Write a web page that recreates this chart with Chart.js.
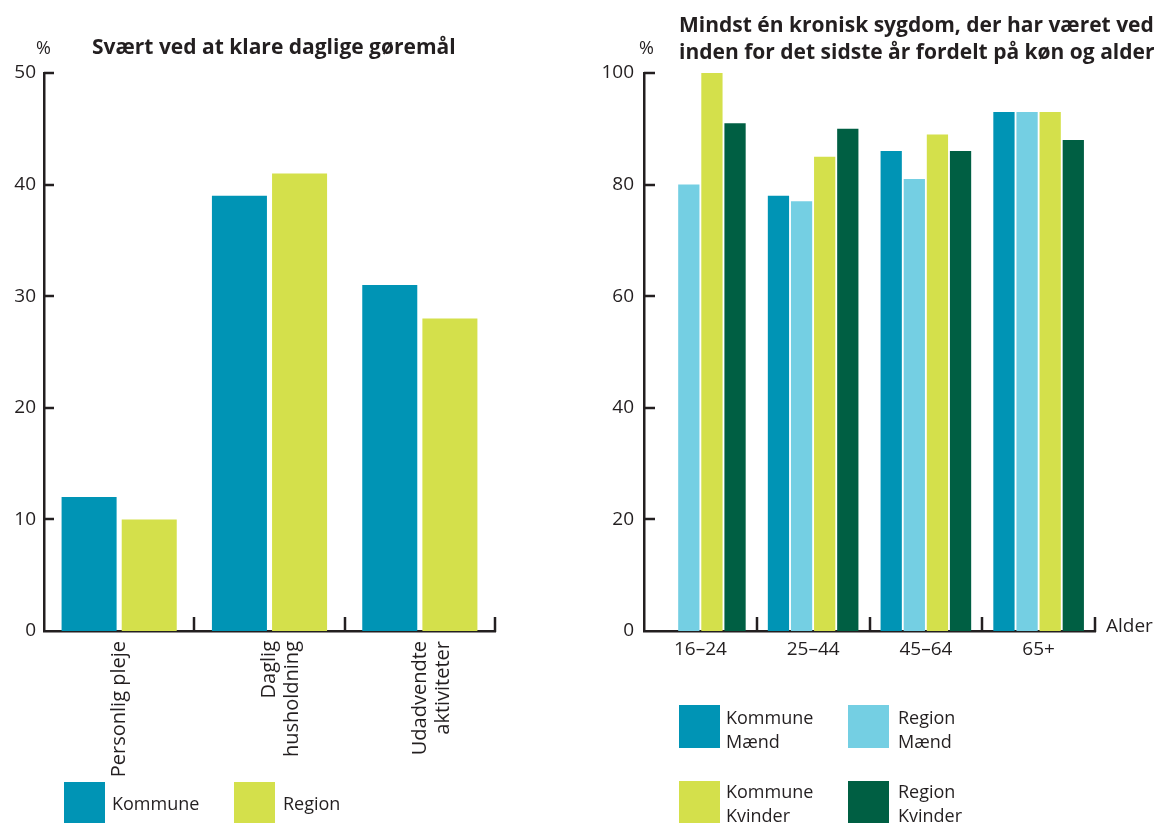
<!DOCTYPE html>
<html>
<head>
<meta charset="utf-8">
<script src="https://cdn.jsdelivr.net/npm/chart.js@4.4.1/dist/chart.umd.min.js"></script>
<style>
  html, body { margin: 0; padding: 0; background: #ffffff; }
  #page { position: relative; width: 1154px; height: 823px; overflow: hidden;
          font-family: 'Open Sans', sans-serif; color: #231f20; }
  canvas { position: absolute; top: 0; }
  .txt { position: absolute; white-space: nowrap; font-size: 18px; line-height: 24px; }
  .title { font-weight: 700; font-size: 21px; line-height: 27px; }
  .swatch { position: absolute; }
</style>
</head>
<body>
<div id="page">
  <canvas id="tasks" width="560" height="823" style="left:0; width:560px; height:823px;"></canvas>
  <canvas id="chronic" width="594" height="823" style="left:560px; width:594px; height:823px;"></canvas>

  <div class="txt" style="left:36px; top:35px;">%</div>
  <div class="txt title" style="left:92px; top:33px;">Svært ved at klare daglige gøremål</div>

  <div class="txt" style="left:639px; top:35px;">%</div>
  <div class="txt title" style="left:679px; top:11px;">Mindst én kronisk sygdom, der har været ved<br>inden for det sidste år fordelt på køn og alder</div>
  <div class="txt" style="left:1106px; top:613px; font-size:19px;">Alder</div>

  <div id="tasksKey"></div>
  <div id="chronicKey"></div>
</div>

<script>
// ---- data: difficulty with daily tasks (%) ----
const taskCategories = [['Personlig pleje'], ['Daglig', 'husholdning'], ['Udadvendte', 'aktiviteter']];
const taskKommune = [12, 39, 31];
const taskRegion = [10, 41, 28];
const taskTicks = [0, 10, 20, 30, 40, 50];

// ---- data: at least one chronic disease, by sex and age (%) ----
const ageGroups = ['16–24', '25–44', '45–64', '65+'];
const kommuneMaend = [0, 78, 86, 93];
const regionMaend = [80, 77, 81, 93];
const kommuneKvinder = [100, 85, 89, 93];
const regionKvinder = [91, 90, 86, 88];
const chronicTicks = [0, 20, 40, 60, 80, 100];

// ---- series names and colours ----
const taskSeriesNames = ['Kommune', 'Region'];
const chronicSeriesNames = [['Kommune', 'Mænd'], ['Region', 'Mænd'], ['Kommune', 'Kvinder'], ['Region', 'Kvinder']];
const TEAL = '#0094b5';
const SKY = '#74cfe3';
const LIME = '#d4e04b';
const PINE = '#005f43';
const INK = '#231f20';

Chart.defaults.font.family = "'Open Sans', sans-serif";
Chart.defaults.font.size = 19;
Chart.defaults.color = INK;

// Inward tick marks on the value axis and upward separators between categories
const axisMarks = {
  id: 'axisMarks',
  afterDatasetsDraw(chart, args, opts) {
    const { ctx, chartArea } = chart;
    const ys = chart.scales.y, xs = chart.scales.x;
    ctx.save();
    ctx.strokeStyle = INK;
    ctx.lineWidth = 2.5;
    ys.ticks.forEach(t => {
      if (t.value === ys.min) return;
      const py = Math.round(ys.getPixelForValue(t.value));
      ctx.beginPath();
      ctx.moveTo(chartArea.left, py);
      ctx.lineTo(chartArea.left + opts.inward, py);
      ctx.stroke();
    });
    for (let i = 0; i < xs.ticks.length; i++) {
      const px = Math.round(xs.getPixelForValue(i + 0.5));
      ctx.beginPath();
      ctx.moveTo(px, chartArea.bottom + 1);
      ctx.lineTo(px, chartArea.bottom - opts.rise);
      ctx.stroke();
    }
    ctx.restore();
  }
};

function valueAxis(ticks, width, pad) {
  return {
    min: ticks[0],
    max: ticks[ticks.length - 1],
    afterBuildTicks(scale) { scale.ticks = ticks.map(v => ({ value: v })); },
    afterFit(scale) { scale.width = width; },
    grid: { display: false, drawTicks: false },
    border: { display: true, color: INK, width: 2.5 },
    ticks: { padding: pad, color: INK, font: { size: 19 } }
  };
}

function buildKey(hostId, items, swatchW, swatchH) {
  const host = document.getElementById(hostId);
  items.forEach(it => {
    const sw = document.createElement('div');
    sw.className = 'swatch';
    sw.style.cssText = `left:${it.x}px; top:${it.y}px; width:${swatchW}px; height:${swatchH}px; background:${it.color};`;
    host.appendChild(sw);
    const tx = document.createElement('div');
    tx.className = 'txt';
    tx.style.cssText = `left:${it.x + swatchW + it.gap}px; top:${it.ty}px;`;
    tx.innerHTML = [].concat(it.label).join('<br>');
    host.appendChild(tx);
  });
}

// ---- left chart ----
new Chart(document.getElementById('tasks'), {
  type: 'bar',
  data: {
    labels: taskCategories,
    datasets: [
      { label: taskSeriesNames[0], data: taskKommune, backgroundColor: TEAL },
      { label: taskSeriesNames[1], data: taskRegion, backgroundColor: LIME }
    ]
  },
  options: {
    responsive: false,
    animation: false,
    layout: { padding: { top: 73, right: 65, left: 0, bottom: 0 } },
    categoryPercentage: 0.8,
    barPercentage: 0.915,
    plugins: { legend: { display: false }, tooltip: { enabled: false }, axisMarks: { inward: 10, rise: 14 } },
    scales: {
      x: {
        afterFit(scale) { scale.height = 192; },
        grid: { display: false, drawTicks: false },
        border: { display: true, color: INK, width: 2.5 },
        ticks: { minRotation: 90, maxRotation: 90, autoSkip: false, padding: 10, color: INK, font: { size: 20, lineHeight: 1.15 } }
      },
      y: valueAxis(taskTicks, 44, 8)
    }
  },
  plugins: [axisMarks]
});

// ---- right chart ----
new Chart(document.getElementById('chronic'), {
  type: 'bar',
  data: {
    labels: ageGroups,
    datasets: [
      { label: chronicSeriesNames[0].join(' '), data: kommuneMaend, backgroundColor: TEAL },
      { label: chronicSeriesNames[1].join(' '), data: regionMaend, backgroundColor: SKY },
      { label: chronicSeriesNames[2].join(' '), data: kommuneKvinder, backgroundColor: LIME },
      { label: chronicSeriesNames[3].join(' '), data: regionKvinder, backgroundColor: PINE }
    ]
  },
  options: {
    responsive: false,
    animation: false,
    layout: { padding: { top: 73, right: 59, left: 0, bottom: 0 } },
    categoryPercentage: 0.82,
    barPercentage: 0.92,
    plugins: { legend: { display: false }, tooltip: { enabled: false }, axisMarks: { inward: 11, rise: 14 } },
    scales: {
      x: {
        afterFit(scale) { scale.height = 192; },
        grid: { display: false, drawTicks: false },
        border: { display: true, color: INK, width: 2.5 },
        ticks: { maxRotation: 0, autoSkip: false, padding: 7, color: INK, font: { size: 19 } }
      },
      y: valueAxis(chronicTicks, 84, 10)
    }
  },
  plugins: [axisMarks]
});

// ---- keys ----
buildKey('tasksKey', [
  { x: 64, y: 782, color: TEAL, label: taskSeriesNames[0], gap: 7, ty: 791 },
  { x: 234, y: 782, color: LIME, label: taskSeriesNames[1], gap: 8, ty: 791 }
], 41, 41);

buildKey('chronicKey', [
  { x: 679, y: 705, color: TEAL, label: chronicSeriesNames[0], gap: 6, ty: 705 },
  { x: 848, y: 705, color: SKY, label: chronicSeriesNames[1], gap: 9, ty: 705 },
  { x: 679, y: 781, color: LIME, label: chronicSeriesNames[2], gap: 6, ty: 779 },
  { x: 848, y: 781, color: PINE, label: chronicSeriesNames[3], gap: 9, ty: 779 }
], 41, 43);
</script>
</body>
</html>
